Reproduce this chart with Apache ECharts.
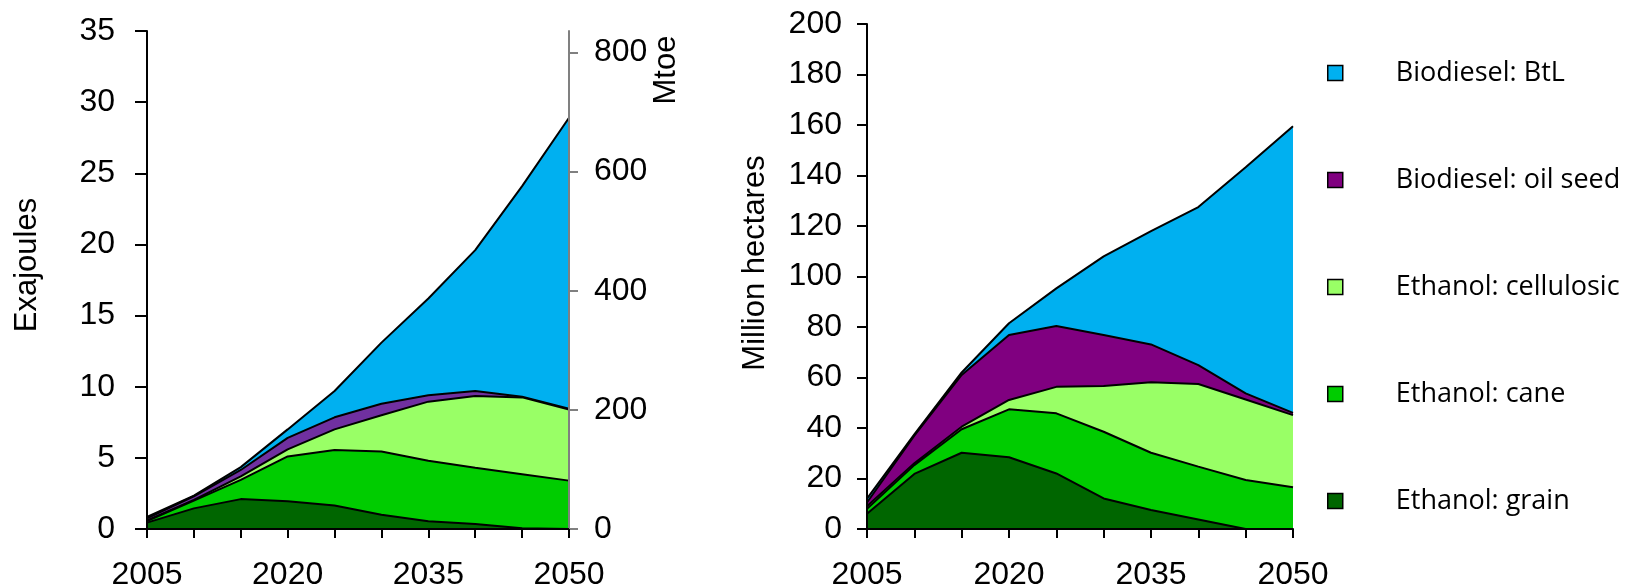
<!DOCTYPE html>
<html><head><meta charset="utf-8">
<script src="https://cdn.jsdelivr.net/npm/echarts@6/dist/echarts.min.js"></script>
<style>html,body{margin:0;padding:0;background:#fff}#c{width:1635px;height:586px}</style>
</head><body><div id="c"></div>
<script>
// ---- data ----
const years = ['2005','2010','2015','2020','2025','2030','2035','2040','2045','2050'];
const names = ['Ethanol: grain','Ethanol: cane','Ethanol: cellulosic','Biodiesel: oil seed','Biodiesel: BtL'];
const legendOrder = ['Biodiesel: BtL','Biodiesel: oil seed','Ethanol: cellulosic','Ethanol: cane','Ethanol: grain'];

// Left panel: Exajoules
const ejGrain      = [0.45, 1.45, 2.1, 1.95, 1.65, 1.0, 0.55, 0.35, 0.05, 0];
const ejCane       = [0.1, 0.55, 1.35, 3.15, 3.9, 4.45, 4.25, 3.95, 3.8, 3.4];
const ejCellulosic = [0.05, 0.05, 0.25, 0.5, 1.45, 2.55, 4.15, 5.05, 5.4, 5.0];
const ejOilSeed    = [0.15, 0.25, 0.45, 0.8, 0.85, 0.8, 0.45, 0.35, 0.05, 0.05];
const ejBtL        = [0.1, 0.05, 0.2, 0.6, 1.85, 4.3, 6.8, 9.9, 14.8, 20.45];

// Right panel: Million hectares
const haGrain      = [6, 21.8, 30.2, 28.4, 22, 12.1, 7.5, 3.8, 0, 0];
const haCane       = [2, 3.5, 9.3, 19.0, 23.8, 26.4, 22.7, 20.9, 19.4, 16.5];
const haCellulosic = [1, 0.7, 1.0, 3.7, 10.5, 18.1, 27.9, 32.7, 31.9, 28.6];
const haOilSeed    = [1.5, 11, 20.5, 25.7, 24.1, 20.2, 15, 7.5, 2.4, 0.9];
const haBtL        = [1.5, 0.5, 1.0, 4.7, 14.9, 31.2, 44.9, 62.6, 89.6, 113.5];

const mtoeTicks = [0, 200, 400, 600, 800];
const ejMax = 35;
const ejPerMtoe = 0.041868;

// ---- styles ----
const leftColors  = ['#006600','#00CC00','#99FF66','#7030A0','#00B0F0'];
const rightColors = ['#006600','#00CC00','#99FF66','#800080','#00B0F0'];
const AX = 'Liberation Sans, Arial, sans-serif';

function mk(data, i, colors, xi, yi, stack) {
  return {
    name: names[i], type: 'line', stack: stack, xAxisIndex: xi, yAxisIndex: yi,
    data: data, symbol: 'none', z: 10 - i,
    lineStyle: {color: '#000', width: 2},
    itemStyle: {color: colors[i]},
    areaStyle: {color: colors[i], opacity: 1},
    emphasis: {disabled: true}
  };
}
const rightData = [haGrain, haCane, haCellulosic, haOilSeed, haBtL];
const leftData = [ejGrain, ejCane, ejCellulosic, ejOilSeed, ejBtL];
const series = [];
rightData.forEach((d, i) => series.push(mk(d, i, rightColors, 1, 2, 'R')));
leftData.forEach((d, i) => series.push(mk(d, i, leftColors, 0, 0, 'L')));

function xAx(gi) {
  return {
    type: 'category', gridIndex: gi, data: years, boundaryGap: false, z: 20,
    axisLine: {show: true, lineStyle: {color: '#000', width: 2}},
    axisTick: {show: true, interval: 0, length: 9, lineStyle: {color: '#000', width: 2}},
    axisLabel: {interval: 2, fontSize: 32, fontFamily: AX, color: '#000', margin: 30},
    splitLine: {show: false}
  };
}

const chart = echarts.init(document.getElementById('c'), null, {renderer: 'canvas'});
chart.setOption({
  animation: false,
  backgroundColor: '#fff',
  grid: [
    {left: 147, top: 31, width: 422, height: 498, containLabel: false, outerBoundsMode: 'none'},
    {left: 867, top: 24, width: 426, height: 505, containLabel: false, outerBoundsMode: 'none'}
  ],
  xAxis: [xAx(0), xAx(1)],
  yAxis: [
    {type: 'value', gridIndex: 0, min: 0, max: ejMax, interval: 5, z: 20,
     axisLine: {show: true, lineStyle: {color: '#000', width: 2}},
     axisTick: {show: true, length: 12, lineStyle: {color: '#000', width: 2}},
     axisLabel: {fontSize: 32, fontFamily: AX, color: '#000', margin: 32},
     splitLine: {show: false}},
    {type: 'value', gridIndex: 0, position: 'right', min: 0, max: ejMax / ejPerMtoe, z: 20,
     axisLine: {show: true, lineStyle: {color: '#808080', width: 2}},
     axisTick: {show: true, length: 9, customValues: mtoeTicks, lineStyle: {color: '#808080', width: 2}},
     axisLabel: {fontSize: 32, fontFamily: AX, color: '#000', margin: 25, customValues: mtoeTicks},
     splitLine: {show: false}},
    {type: 'value', gridIndex: 1, min: 0, max: 200, interval: 20, z: 20,
     axisLine: {show: true, lineStyle: {color: '#000', width: 2}},
     axisTick: {show: true, length: 10, lineStyle: {color: '#000', width: 2}},
     axisLabel: {fontSize: 32, fontFamily: AX, color: '#000', margin: 25},
     splitLine: {show: false}}
  ],
  legend: {
    data: legendOrder, orient: 'vertical', left: 1322, top: 53,
    itemWidth: 15, itemHeight: 15, itemGap: 77, icon: 'rect',
    itemStyle: {borderColor: '#000', borderWidth: 1.5},
    textStyle: {fontSize: 27, fontFamily: 'Open Sans, sans-serif', color: '#000', lineHeight: 30, padding: [0, 0, 0, 48]},
    selectedMode: false
  },
  graphic: [
    {type: 'text', x: 27, y: 265, rotation: Math.PI / 2,
     style: {text: 'Exajoules', fontSize: 31, fontFamily: AX, fill: '#000', align: 'center', verticalAlign: 'middle'}},
    {type: 'text', x: 755, y: 263, rotation: Math.PI / 2,
     style: {text: 'Million hectares', fontSize: 31, fontFamily: AX, fill: '#000', align: 'center', verticalAlign: 'middle'}},
    {type: 'text', x: 666, y: 70, rotation: Math.PI / 2,
     style: {text: 'Mtoe', fontSize: 31, fontFamily: AX, fill: '#000', align: 'center', verticalAlign: 'middle'}}
  ],
  series: series
});
</script></body></html>
